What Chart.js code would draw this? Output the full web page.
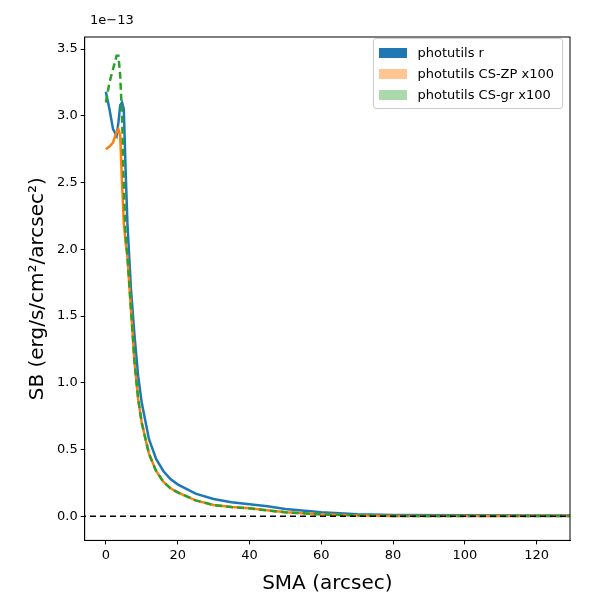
<!DOCTYPE html>
<html>
<head>
<meta charset="utf-8">
<script src="https://cdn.jsdelivr.net/npm/chart.js@4"></script>
<style>
  body { margin: 0; background: #fff; }
  #wrap { position: relative; width: 600px; height: 600px; }
  #exp { position: absolute; left: 90px; top: 12px; font: 13px "DejaVu Sans"; }
  #leg { position: absolute; right: 37px; top: 38px; border: 1px solid #ccc; border-radius: 3px; background: rgba(255,255,255,0.85); padding: 3px 8px 3px 5px; font: 13px "DejaVu Sans"; }
  #leg div { display: flex; align-items: center; height: 21px; }
  #leg span { display: inline-block; width: 28px; height: 10px; margin-right: 11px; }
</style>
</head>
<body>
<div id="wrap"><canvas id="c" width="600" height="600"></canvas><div id="exp">1e−13</div><div id="leg"></div></div>
<script>
// values in units of 1e-13 erg/s/cm^2/arcsec^2
const sma = [0, 1, 2, 3, 3.5, 4, 4.5, 5, 5.5, 6, 7, 8, 9, 10, 12, 14, 16, 18, 20, 25, 30, 35, 40, 45, 50, 60, 70, 80, 100, 120, 133];
const sbR = [3.18, 3.05, 2.9, 2.85, 2.95, 3.08, 3.1, 3.05, 2.6, 2.2, 1.7, 1.35, 1.05, 0.85, 0.58, 0.43, 0.34, 0.28, 0.24, 0.17, 0.13, 0.105, 0.09, 0.075, 0.055, 0.03, 0.015, 0.01, 0.008, 0.007, 0.007];
const sbZP = [2.75, 2.77, 2.8, 2.88, 2.9, 2.85, 2.5, 2.2, 2.05, 1.95, 1.55, 1.15, 0.88, 0.7, 0.47, 0.34, 0.26, 0.21, 0.18, 0.12, 0.085, 0.07, 0.06, 0.045, 0.03, 0.015, 0.007, 0.003, 0.002, 0.002, 0.002];
const sbGR = [3.1, 3.25, 3.35, 3.45, 3.45, 3.3, 3.0, 2.5, 2.1, 1.95, 1.55, 1.15, 0.88, 0.7, 0.47, 0.34, 0.26, 0.21, 0.18, 0.12, 0.085, 0.07, 0.06, 0.045, 0.03, 0.015, 0.007, 0.003, 0.002, 0.002, 0.002];
const yTicks = [0, 0.5, 1, 1.5, 2, 2.5, 3, 3.5];
const xTicks = [0, 20, 40, 60, 80, 100, 120];
const legendItems = [
    ['photutils r', '#1f77b4'],
    ['photutils CS-ZP x100', 'rgba(255,127,14,0.45)'],
    ['photutils CS-gr x100', 'rgba(44,160,44,0.4)']
];

document.getElementById('leg').innerHTML = legendItems
    .map(l => '<div><span style="background:' + l[1] + '"></span>' + l[0] + '</div>').join('');

const pts = ys => sma.map((x, i) => ({ x: x, y: ys[i] }));
const font = { family: 'DejaVu Sans', size: 13 };

// full box around the plot area
const frame = {
    id: 'frame',
    afterDraw(chart) {
        const a = chart.chartArea, ctx = chart.ctx;
        ctx.save();
        ctx.strokeStyle = '#000';
        ctx.lineWidth = 1;
        ctx.strokeRect(a.left, a.top, a.right - a.left, a.bottom - a.top);
        ctx.restore();
    }
};

const axisGrid = { drawOnChartArea: false, drawTicks: true, tickLength: 4, color: '#000' };

new Chart(document.getElementById('c'), {
    type: 'scatter',
    data: {
        datasets: [
            { label: 'photutils r', data: pts(sbR), showLine: true, borderColor: '#1f77b4', borderWidth: 2.5, pointRadius: 0, order: 3 },
            { label: 'photutils CS-ZP x100', data: pts(sbZP), showLine: true, borderColor: '#ff7f0e', borderWidth: 2.5, pointRadius: 0, order: 2 },
            { label: 'photutils CS-gr x100', data: pts(sbGR), showLine: true, borderColor: '#2ca02c', borderWidth: 2.5, borderDash: [7, 4], pointRadius: 0, order: 1 },
            { label: 'zero', data: [{ x: -10, y: 0 }, { x: 140, y: 0 }], showLine: true, borderColor: '#000', borderWidth: 1.5, borderDash: [6, 4], pointRadius: 0, order: 0 }
        ]
    },
    options: {
        responsive: false,
        animation: false,
        layout: { padding: { top: 37, right: 30, left: 22, bottom: 0 } },
        plugins: { legend: { display: false }, tooltip: { enabled: false } },
        scales: {
            x: {
                type: 'linear', min: -5.9, max: 129.3,
                afterBuildTicks: ax => { ax.ticks = xTicks.map(v => ({ value: v })); },
                grid: axisGrid,
                border: { color: '#000' },
                ticks: { font: font, color: '#000', padding: 3 },
                title: { display: true, text: 'SMA (arcsec)', font: { family: 'DejaVu Sans', size: 20 }, color: '#000', padding: { top: 6, bottom: 4 } }
            },
            y: {
                min: -0.18, max: 3.59,
                afterBuildTicks: ax => { ax.ticks = yTicks.map(v => ({ value: v })); },
                grid: axisGrid,
                border: { color: '#000' },
                ticks: { font: font, color: '#000', padding: 3, callback: v => v.toFixed(1) },
                title: { display: true, text: 'SB (erg/s/cm²/arcsec²)', font: { family: 'DejaVu Sans', size: 20 }, color: '#000' }
            }
        }
    },
    plugins: [frame]
});
</script>
</body>
</html>
